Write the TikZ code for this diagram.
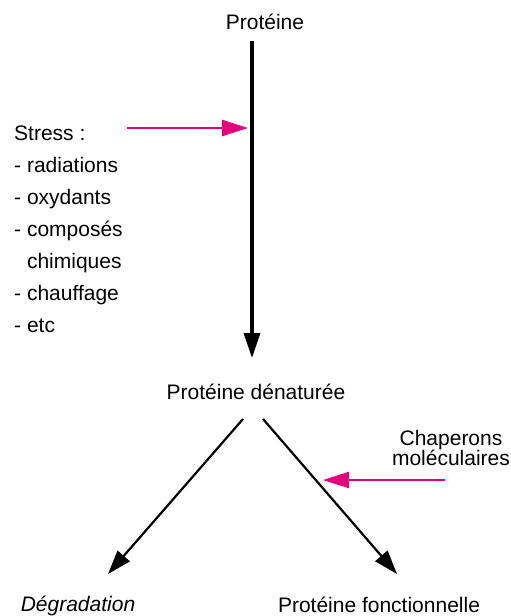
\documentclass[tikz,border=0pt]{standalone}
\usepackage{fontspec}
\setmainfont{Liberation Sans}
\usetikzlibrary{arrows.meta}
\definecolor{rose}{RGB}{228,0,124}

\begin{document}
\begin{tikzpicture}[x=1pt, y=-1pt,
    every node/.style={font=\fontsize{21}{24}\selectfont, inner sep=0pt, anchor=base},
    fleche/.style={line width=2.2pt, -{Triangle[length=24pt,width=16pt]}},
    rosefleche/.style={draw=rose, line width=2.5pt, -{Triangle[length=26pt,width=16pt]}}]
    \useasboundingbox (0,0) rectangle (511,616);

    % Proteine native -> denaturee
    \node (prot) at (265,29) {Protéine};
    \node (denat) at (256,399) {Protéine dénaturée};
    \coordinate (haut) at (252,41);
    \coordinate (bas) at (252,358);
    \draw[fleche, line width=3.2pt, -{Triangle[length=25pt,width=16pt]}] (haut) -- (bas);

    % Stress
    \node[anchor=base west] (stress) at (14,140) {Stress :};
    \foreach \y/\txt [count=\i] in {172/- radiations, 204/- oxydants, 236/- composés,
        268/\phantom{- }chimiques, 300/- chauffage, 332/- etc}
      \node[anchor=base west] (item\i) at (14,\y) {\txt};
    \coordinate (s1) at (127,128);
    \coordinate (s2) at (248,128);
    \draw[rosefleche] (s1) -- (s2);

    % Devenir de la proteine denaturee
    \coordinate (g0) at (243,419);
    \coordinate (g1) at (108,574);
    \coordinate (d0) at (263,419);
    \coordinate (d1) at (397,574);
    \draw[fleche] (g0) -- (g1);
    \draw[fleche] (d0) -- (d1);
    \node (degr) at (78,611) {\itshape Dégradation};
    \node (fonct) at (379,612) {Protéine fonctionnelle};

    % Chaperons
    \node[align=center, anchor=base] (chap) at (451,465) {Chaperons\\[-4pt]moléculaires};
    \coordinate (c1) at (445,480);
    \coordinate (c2) at (323,480);
    \draw[rosefleche] (c1) -- (c2);
\end{tikzpicture}
\end{document}
